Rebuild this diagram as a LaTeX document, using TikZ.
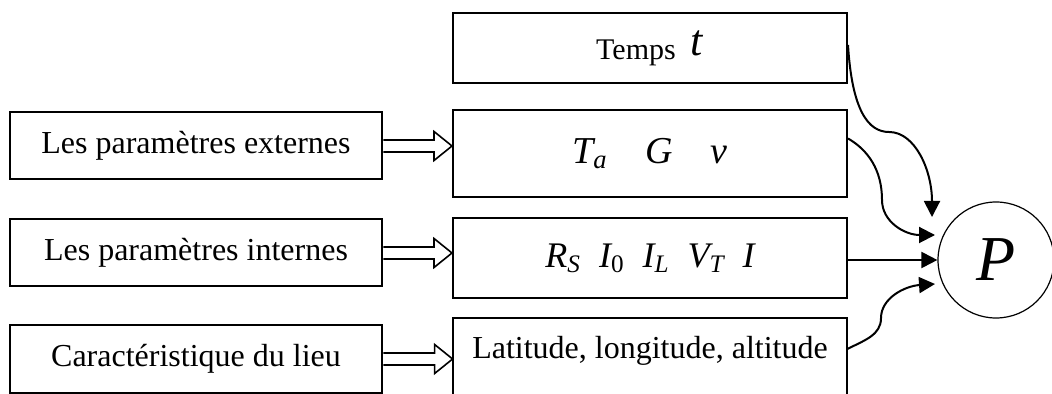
\documentclass[tikz,border=0pt]{standalone}
\usepackage{fontspec}
\setmainfont{Liberation Serif}
\usepackage{amsmath}
\usetikzlibrary{calc,arrows.meta}

\tikzset{
  param/.style={draw, line width=1pt, inner sep=0pt, minimum width=186.25pt, minimum height=33.5pt, font=\fontsize{16}{19}\selectfont},
  valbox/.style={draw, line width=1pt, inner sep=0pt, minimum width=197pt},
  hollow/.style={line width=0.8pt, fill=white, line join=miter},
  link/.style={line width=1pt, -{Triangle[length=8pt,width=8pt]}},
}
% open double-shaft arrow from box #1 to box #2
\newcommand\hollowarrow[2]{%
  \draw[hollow] ($(#1.east)+(0,-6)$) -- ($(#2.west |- #1.east)+(-18,-6)$) -- ++(0,-8.5)
    -- (#2.west |- #1.east) -- ($(#2.west |- #1.east)+(-18,14.5)$) -- ++(0,-8.5)
    -- ($(#1.east)+(0,6)$);}

\begin{document}
\begin{tikzpicture}[x=0.5pt,y=-0.5pt]
\useasboundingbox (0,0) rectangle (1052,394);
\clip (0,0) rectangle (1052,394);

% left column
\node[param] (ext) at (196,146) {Les paramètres externes};
\node[param] (int) at (196,253) {Les paramètres internes};
\node[param] (lieu) at (196,359) {Caractéristique du lieu};

% right column
\node[valbox, minimum height=35pt, font=\fontsize{15}{18}\selectfont] (temps) at (650,48)
  {Temps\ \ \raisebox{2pt}{\fontsize{22}{22}\selectfont\textit{t}}};
\node[valbox, minimum height=43.5pt, font=\fontsize{19}{22}\selectfont] (ta) at (650,153.5)
  {$\textit{T}_{\textit{a}}\quad\textit{G}\quad\textit{v}$};
\node[valbox, minimum height=40pt, font=\fontsize{18}{21}\selectfont] (rs) at (650,258)
  {$\textit{R}_{\textit{S}}\enspace\textit{I}_{\textup{0}}\enspace\textit{I}_{\textit{L}}\enspace\textit{V}_{\textit{T}}\enspace\textit{I}$};
\node[inner sep=0pt, minimum width=197pt, minimum height=31pt, font=\fontsize{16}{19}\selectfont] (lat) at (650,351)
  {Latitude, longitude, altitude};
\draw[line width=1pt] ($(lat.south west)+(0,40)$) |- ($(lat.north east)+(0,-2)$) -- ($(lat.south east)+(0,40)$);

% output
\node[draw, circle, line width=0.6pt, minimum size=58pt, inner sep=0pt, font=\fontsize{32}{32}\selectfont] (P) at (996,260) {\textit{P}};

\hollowarrow{ext}{ta}
\hollowarrow{int}{rs}
\hollowarrow{lieu}{lat}

\draw[link] ($(temps.east)+(0,-3)$) .. controls (852,110) and (868,132) .. (889,132)
  .. controls (915,132) and (932,170) .. ($(P.center)+(-64,-43)$);
\draw[link] ($(ta.east)+(0,-15)$) .. controls (868,150) and (882,170) .. (882,200)
  .. controls (882,222) and (905,235) .. ($(P.center)+(-61,-25)$);
\draw[link] (rs.east |- P.west) -- (P.west);
\draw[link] ($(lat.east)+(0,-2)$) .. controls (865,340) and (881,335) .. (881,318)
  .. controls (881,298) and (905,286) .. ($(P.center)+(-61,24)$);
\end{tikzpicture}
\end{document}
